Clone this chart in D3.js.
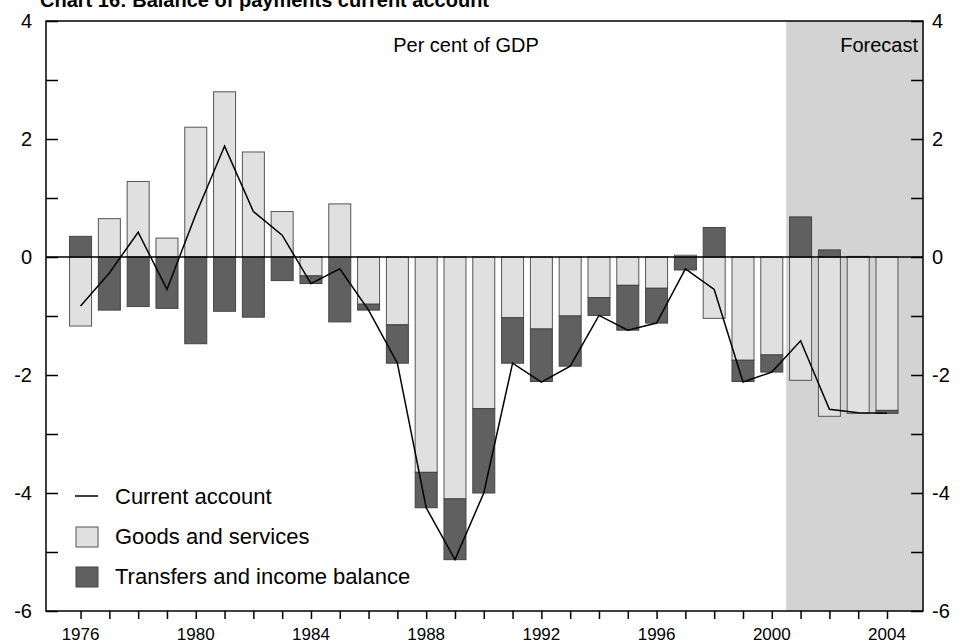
<!DOCTYPE html>
<html><head><meta charset="utf-8">
<script src="https://cdn.jsdelivr.net/npm/d3@7"></script>
<style>body{margin:0;background:#fff}text{font-family:"Liberation Sans",Arial,sans-serif}</style>
</head><body><svg id="c" width="960" height="643"></svg>
<script>
const years = d3.range(1976, 2005);
const goods = [-1.17,0.65,1.28,0.32,2.2,2.8,1.78,0.77,-0.32,0.9,-0.8,-1.15,-3.65,-4.1,-2.57,-1.03,-1.22,-1.0,-0.69,-0.48,-0.53,0.03,-1.04,-1.75,-1.66,-2.09,-2.7,-2.65,-2.6];
const transfers = [0.35,-0.9,-0.84,-0.87,-1.47,-0.92,-1.02,-0.4,-0.13,-1.1,-0.1,-0.65,-0.6,-1.03,-1.43,-0.77,-0.89,-0.85,-0.3,-0.76,-0.59,-0.22,0.5,-0.36,-0.29,0.68,0.12,0.01,-0.05];
const current = [-0.83,-0.27,0.42,-0.55,0.72,1.88,0.77,0.37,-0.45,-0.2,-0.9,-1.8,-4.25,-5.13,-4.0,-1.8,-2.12,-1.85,-0.99,-1.24,-1.12,-0.2,-0.55,-2.12,-1.95,-1.42,-2.58,-2.64,-2.65];
const yTicks = [-6,-4,-2,0,2,4];
const xLabels = [1976,1980,1984,1988,1992,1996,2000,2004];
const forecastStart = 2000.5;

const svg = d3.select("#c");
const L = 46, R = 923, T = 21, B = 611;
const x = d3.scaleLinear().domain([1974.8, 2005.25]).range([L, R]);
const y = d3.scaleLinear().domain([-6, 4]).range([B, T]);
const bw = 22;

svg.append("rect").attr("x", x(forecastStart)).attr("y", T).attr("width", R - x(forecastStart)).attr("height", B - T).attr("fill", "#d3d3d3");

// stacking by sign
const bars = [];
years.forEach((yr, i) => {
  let pos = 0, neg = 0;
  [[goods[i], "g"], [transfers[i], "t"]].forEach(([v, k]) => {
    let y0, y1;
    if (v >= 0) { y0 = pos; y1 = pos + v; pos = y1; } else { y0 = neg; y1 = neg + v; neg = y1; }
    bars.push({yr, k, y0, y1});
  });
});
svg.append("g").selectAll("rect").data(bars).join("rect")
  .attr("x", d => x(d.yr) - bw / 2).attr("width", bw)
  .attr("y", d => y(Math.max(d.y0, d.y1))).attr("height", d => Math.abs(y(d.y0) - y(d.y1)))
  .attr("fill", d => d.k === "g" ? "#e0e0e0" : "#606060")
  .attr("stroke", d => d.k === "g" ? "#555" : "#444").attr("stroke-width", 1);

svg.append("line").attr("x1", L).attr("x2", R).attr("y1", y(0)).attr("y2", y(0)).attr("stroke", "#000").attr("stroke-width", 1.5);

svg.append("path").datum(current.map((v, i) => [years[i], v]))
  .attr("d", d3.line().x(d => x(d[0])).y(d => y(d[1])))
  .attr("fill", "none").attr("stroke", "#000").attr("stroke-width", 1.5);

svg.append("rect").attr("x", L).attr("y", T).attr("width", R - L).attr("height", B - T).attr("fill", "none").attr("stroke", "#000").attr("stroke-width", 1.5);

const fmt = d => d;
const yl = svg.append("g").attr("transform", `translate(${L},0)`).call(d3.axisRight(y).tickValues(d3.range(-6, 5, 1)).tickSize(12).tickFormat(""));
const yr2 = svg.append("g").attr("transform", `translate(${R},0)`).call(d3.axisLeft(y).tickValues(d3.range(-6, 5, 1)).tickSize(12).tickFormat(""));
[yl, yr2].forEach(g => { g.select(".domain").remove(); g.selectAll("line").attr("stroke-width", 1.5); });
svg.append("g").selectAll("text").data(yTicks).join("text").attr("x", 32).attr("y", d => y(d) + 7).attr("text-anchor", "end").attr("font-size", 20).text(fmt);
svg.append("g").selectAll("text").data(yTicks).join("text").attr("x", 932).attr("y", d => y(d) + 7).attr("font-size", 20).text(fmt);

const xa = svg.append("g").attr("transform", `translate(0,${B})`).call(d3.axisBottom(x).tickValues(years).tickSize(8).tickFormat(""));
xa.select(".domain").remove(); xa.selectAll("line").attr("stroke-width", 1.5);
svg.append("g").selectAll("text").data(xLabels).join("text").attr("x", d => x(d)).attr("y", 640).attr("text-anchor", "middle").attr("font-size", 17).text(d => d);

svg.append("text").attr("x", 40).attr("y", 7).attr("font-size", 20).attr("font-weight", "bold").text("Chart 16: Balance of payments current account");
svg.append("text").attr("x", 466).attr("y", 52).attr("text-anchor", "middle").attr("font-size", 20).text("Per cent of GDP");
svg.append("text").attr("x", 918).attr("y", 52).attr("text-anchor", "end").attr("font-size", 20).text("Forecast");

const lg = svg.append("g").attr("font-size", 22);
lg.append("line").attr("x1", 75).attr("x2", 98).attr("y1", 496).attr("y2", 496).attr("stroke", "#000").attr("stroke-width", 1.5);
lg.append("text").attr("x", 115).attr("y", 504).text("Current account");
lg.append("rect").attr("x", 76).attr("y", 527).attr("width", 22).attr("height", 20).attr("fill", "#e0e0e0").attr("stroke", "#555");
lg.append("text").attr("x", 115).attr("y", 544).text("Goods and services");
lg.append("rect").attr("x", 76).attr("y", 567).attr("width", 22).attr("height", 20).attr("fill", "#606060").attr("stroke", "#444");
lg.append("text").attr("x", 115).attr("y", 584).text("Transfers and income balance");
</script></body></html>
